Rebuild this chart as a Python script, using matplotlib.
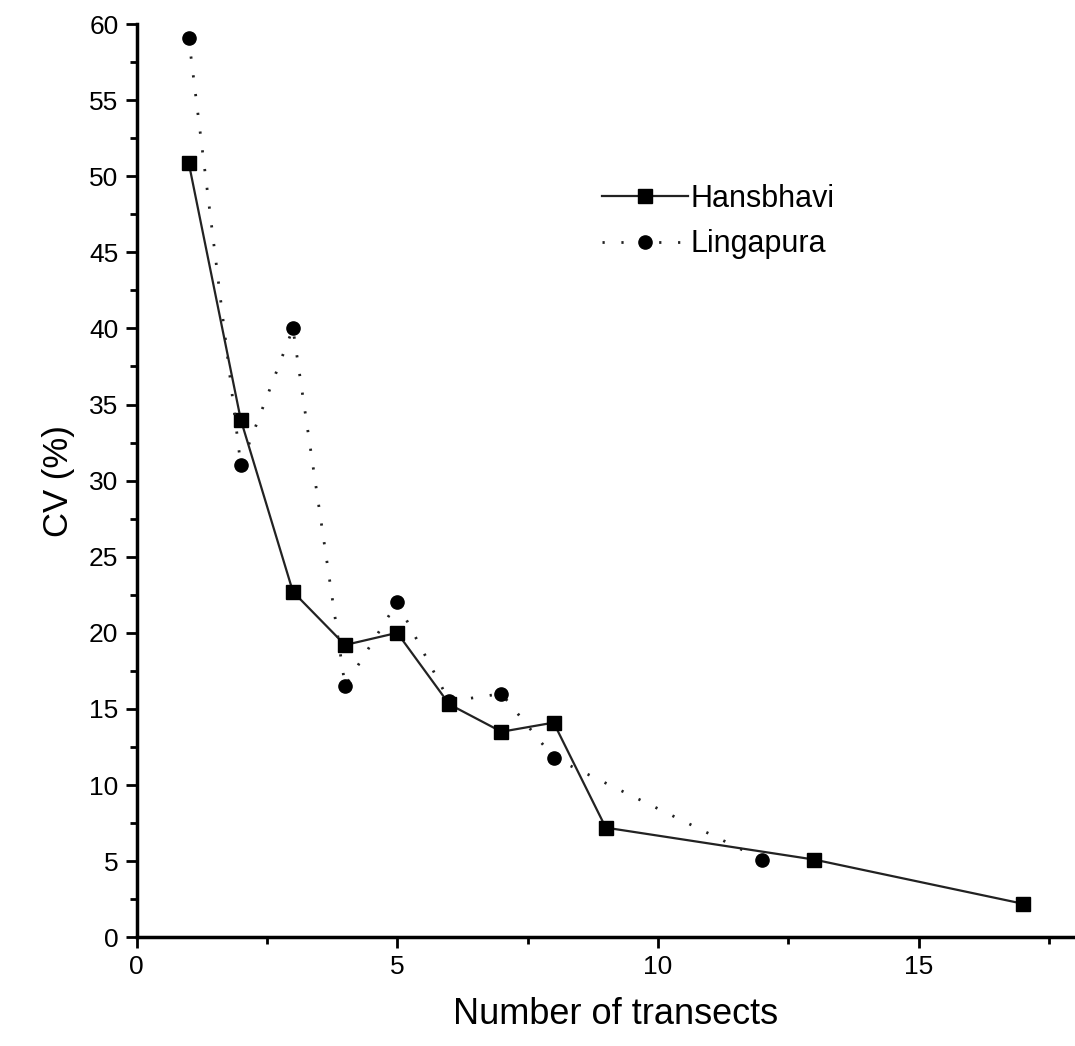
import matplotlib.pyplot as plt
from matplotlib.ticker import MultipleLocator

plt.rcParams['font.family'] = ['Liberation Sans', 'DejaVu Sans']

# Hansbhavi transect data
hans_x = [1, 2, 3, 4, 5, 6, 7, 8, 9, 13, 17]
hans_cv = [50.9, 34.0, 22.7, 19.2, 20.0, 15.3, 13.5, 14.1, 7.2, 5.1, 2.2]

# Lingapura transect data
ling_x = [1, 2, 3, 4, 5, 6, 7, 8, 12]
ling_cv = [59.1, 31.0, 40.0, 16.5, 22.0, 15.5, 16.0, 11.8, 5.1]

fig = plt.figure(figsize=(10.75, 10.46), dpi=100)
ax = fig.add_axes([0.127, 0.104, 0.873, 0.873])

ax.plot(hans_x, hans_cv, color='#222222', linewidth=1.6, marker='s',
        markersize=10, markerfacecolor='black', markeredgecolor='black',
        label='Hansbhavi')
ax.plot(ling_x, ling_cv, color='#222222', linewidth=2, linestyle=(0, (0.8, 6)),
        marker='o', markersize=9.5, markerfacecolor='black', markeredgecolor='black',
        label='Lingapura')

ax.set_xlim(0, 18)
ax.set_ylim(0, 60)
ax.xaxis.set_major_locator(MultipleLocator(5))
ax.xaxis.set_minor_locator(MultipleLocator(2.5))
ax.yaxis.set_major_locator(MultipleLocator(5))
ax.yaxis.set_minor_locator(MultipleLocator(2.5))

ax.spines['top'].set_visible(False)
ax.spines['right'].set_visible(False)
ax.spines['left'].set_linewidth(2.5)
ax.spines['bottom'].set_linewidth(2.5)
ax.tick_params(which='major', direction='out', length=8, width=2, labelsize=19, pad=5)
ax.tick_params(which='minor', direction='out', length=5, width=2)

ax.set_xlabel('Number of transects', fontsize=26, labelpad=12)
ax.xaxis.set_label_coords(0.51, -0.065)
ax.set_ylabel('CV (%)', fontsize=25, labelpad=10)

ax.legend(loc='upper left', bbox_to_anchor=(0.467, 0.855), frameon=False,
          fontsize=22, handlelength=2.8, handletextpad=0.1, labelspacing=0.5)

fig.savefig('out.png', dpi=100)
